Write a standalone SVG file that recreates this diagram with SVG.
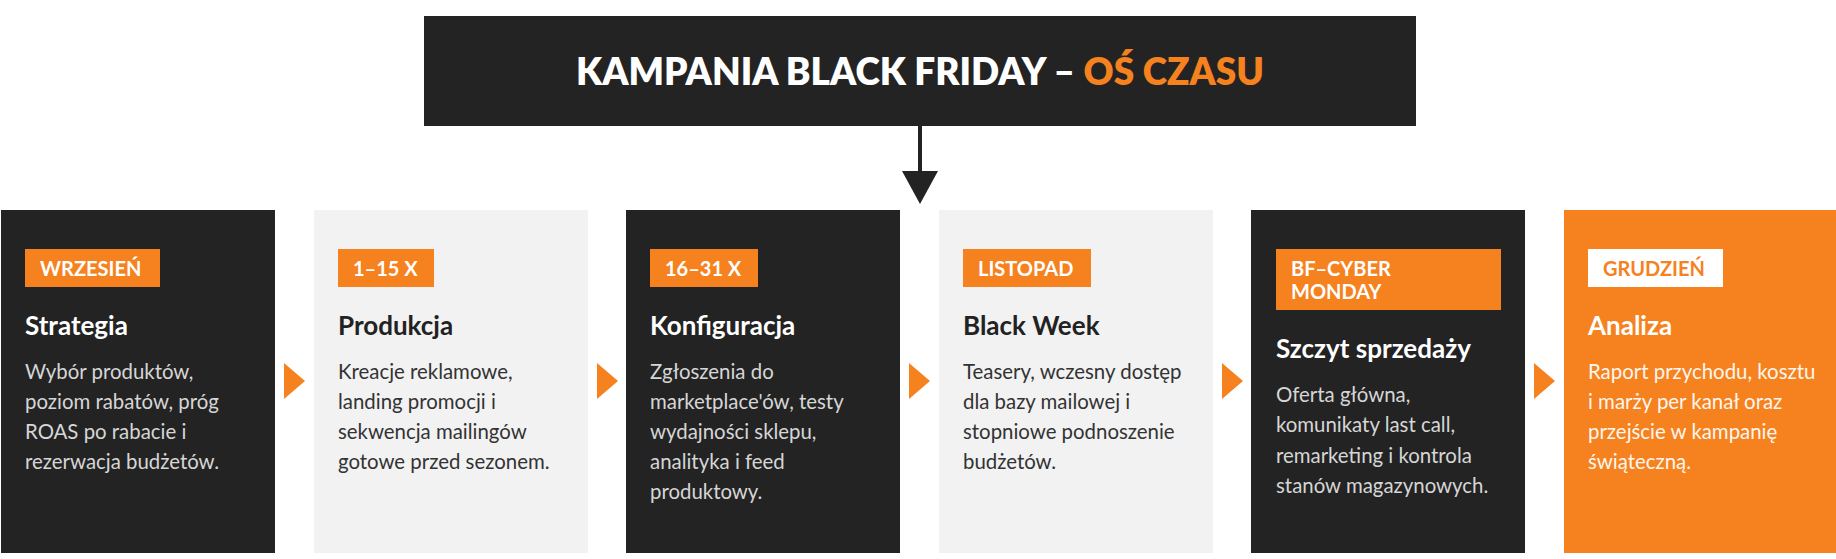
<svg xmlns="http://www.w3.org/2000/svg" width="1836" height="559" viewBox="0 0 1836 559">
<style>
  text { font-family: Lato, "Noto Sans", "Liberation Sans", sans-serif; }
  .dark { fill: #232323; }
  .light { fill: #f2f2f2; }
  .orange { fill: #f5821f; }
  .tagtxt { font-size: 20px; font-weight: 700; fill: #ffffff; }
  .h { font-size: 26px; font-weight: 700; }
  .b { font-size: 20.4px; font-weight: 400; }
  .hd { fill: #ffffff; }
  .bd { fill: #d6d6d6; }
  .hl { fill: #222222; }
  .bl { fill: #333333; }
  .bo { fill: #fff6ee; }
  .tri { fill: #f5821f; }
</style>
<rect width="1836" height="559" fill="#ffffff"/>

<g id="title">
  <rect x="424" y="16" width="992" height="110" class="dark"/>
  <text x="920" y="85" text-anchor="middle" font-size="37" font-weight="800" fill="#ffffff">KAMPANIA BLACK FRIDAY – <tspan fill="#f5821f">OŚ CZASU</tspan></text>
</g>

<g id="connectors">
  <line x1="920" y1="126" x2="920" y2="172" stroke="#232323" stroke-width="4"/>
  <polygon points="902,171 938,171 920,204" fill="#232323"/>
  <polygon class="tri" points="284,363 305,381 284,399"/>
  <polygon class="tri" points="597,363 618,381 597,399"/>
  <polygon class="tri" points="909,363 930,381 909,399"/>
  <polygon class="tri" points="1222,363 1243,381 1222,399"/>
  <polygon class="tri" points="1534,363 1555,381 1534,399"/>
</g>

<g id="card1">
  <rect x="1" y="210" width="274" height="343" class="dark"/>
  <rect x="25" y="249" width="135" height="38" class="orange"/>
  <text x="40" y="276" class="tagtxt">WRZESIEŃ</text>
  <text x="25" y="335" class="h hd">Strategia</text>
  <text class="b bd">
    <tspan x="25" y="379">Wybór produktów,</tspan>
    <tspan x="25" y="409">poziom rabatów, próg</tspan>
    <tspan x="25" y="439">ROAS po rabacie i</tspan>
    <tspan x="25" y="469">rezerwacja budżetów.</tspan>
  </text>
</g>

<g id="card2">
  <rect x="314" y="210" width="274" height="343" class="light"/>
  <rect x="338" y="249" width="96" height="38" class="orange"/>
  <text x="353" y="276" class="tagtxt">1–15 X</text>
  <text x="338" y="335" class="h hl">Produkcja</text>
  <text class="b bl">
    <tspan x="338" y="379">Kreacje reklamowe,</tspan>
    <tspan x="338" y="409">landing promocji i</tspan>
    <tspan x="338" y="439">sekwencja mailingów</tspan>
    <tspan x="338" y="469">gotowe przed sezonem.</tspan>
  </text>
</g>

<g id="card3">
  <rect x="626" y="210" width="274" height="343" class="dark"/>
  <rect x="650" y="249" width="108" height="38" class="orange"/>
  <text x="665" y="276" class="tagtxt">16–31 X</text>
  <text x="650" y="335" class="h hd">Konfiguracja</text>
  <text class="b bd">
    <tspan x="650" y="379">Zgłoszenia do</tspan>
    <tspan x="650" y="409">marketplace'ów, testy</tspan>
    <tspan x="650" y="439">wydajności sklepu,</tspan>
    <tspan x="650" y="469">analityka i feed</tspan>
    <tspan x="650" y="499">produktowy.</tspan>
  </text>
</g>

<g id="card4">
  <rect x="939" y="210" width="274" height="343" class="light"/>
  <rect x="963" y="249" width="128" height="38" class="orange"/>
  <text x="978" y="276" class="tagtxt">LISTOPAD</text>
  <text x="963" y="335" class="h hl">Black Week</text>
  <text class="b bl">
    <tspan x="963" y="379">Teasery, wczesny dostęp</tspan>
    <tspan x="963" y="409">dla bazy mailowej i</tspan>
    <tspan x="963" y="439">stopniowe podnoszenie</tspan>
    <tspan x="963" y="469">budżetów.</tspan>
  </text>
</g>

<g id="card5">
  <rect x="1251" y="210" width="274" height="343" class="dark"/>
  <rect x="1276" y="249" width="225" height="61" class="orange"/>
  <text class="tagtxt">
    <tspan x="1291" y="276">BF–CYBER</tspan>
    <tspan x="1291" y="299">MONDAY</tspan>
  </text>
  <text x="1276" y="358" class="h hd">Szczyt sprzedaży</text>
  <text class="b bd">
    <tspan x="1276" y="402">Oferta główna,</tspan>
    <tspan x="1276" y="432">komunikaty last call,</tspan>
    <tspan x="1276" y="463">remarketing i kontrola</tspan>
    <tspan x="1276" y="493">stanów magazynowych.</tspan>
  </text>
</g>

<g id="card6">
  <rect x="1564" y="210" width="274" height="343" class="orange"/>
  <rect x="1588" y="249" width="135" height="38" fill="#ffffff"/>
  <text x="1603" y="276" class="tagtxt" style="fill:#f5821f">GRUDZIEŃ</text>
  <text x="1588" y="335" class="h hd">Analiza</text>
  <text class="b bo">
    <tspan x="1588" y="379">Raport przychodu, kosztu</tspan>
    <tspan x="1588" y="409">i marży per kanał oraz</tspan>
    <tspan x="1588" y="439">przejście w kampanię</tspan>
    <tspan x="1588" y="469">świąteczną.</tspan>
  </text>
</g>
</svg>
